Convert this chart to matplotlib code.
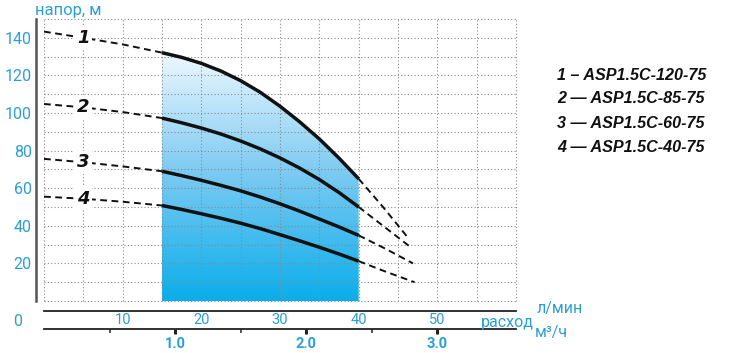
import numpy as np
import matplotlib
matplotlib.use("Agg")
import matplotlib.pyplot as plt
from matplotlib.colors import LinearSegmentedColormap

# flow, l/min
flow_left = [0, 5, 10, 15]
flow_mid = [15, 17.5, 20, 22.5, 25, 27.5, 30, 32.5, 35, 37.5, 40]

# head, m  (dashed part left of the working range)
head_left = {
    "1": [143.3, 140.0, 136.5, 132.1],
    "2": [104.8, 103.0, 100.5, 97.3],
    "3": [75.6, 73.8, 71.6, 69.0],
    "4": [55.5, 54.4, 52.8, 50.8],
}
# head, m  (working range, solid)
head_mid = {
    "1": [132.1, 129.6, 126.4, 122.3, 117.2, 111.0, 103.6, 95.3, 86.2, 76.0, 65.0],
    "2": [97.3, 94.8, 92.0, 88.8, 85.1, 80.9, 76.1, 70.7, 64.6, 57.7, 50.0],
    "3": [69.0, 66.7, 64.2, 61.5, 58.6, 55.3, 51.7, 47.8, 43.6, 39.4, 34.9],
    "4": [50.8, 48.7, 46.4, 44.0, 41.4, 38.5, 35.3, 32.0, 28.6, 25.0, 21.2],
}
# dashed tail right of the working range
flow_right = {
    "1": [40, 43, 46.2],
    "2": [40, 43, 46.4],
    "3": [40, 43.5, 46.9],
    "4": [40, 43.5, 47.1],
}
head_right = {
    "1": [65.0, 50.5, 34.0],
    "2": [50.0, 40.3, 29.3],
    "3": [34.9, 27.6, 20.0],
    "4": [21.2, 15.5, 10.0],
}
models = {
    "1": "1 – ASP1.5C-120-75",
    "2": "2 — ASP1.5C-85-75",
    "3": "3 — ASP1.5C-60-75",
    "4": "4 — ASP1.5C-40-75",
}

x_ticks_lmin = [10, 20, 30, 40, 50]
y_ticks = [20, 40, 60, 80, 100, 120, 140]
m3h_major = [1.0, 2.0, 3.0]
m3h_minor = [0.5, 1.5, 2.5]

BLUE = "#2b9fd5"
FONT = "Roboto"
PX = 72 / 100  # points per pixel

fig = plt.figure(figsize=(7.3, 3.53), dpi=100)
ax = fig.add_axes([44 / 730, 52 / 353, 472 / 730, 282 / 353])
ax.set_xlim(0, 60)
ax.set_ylim(0, 150)

# dotted grid
grid_kw = dict(colors="#8a8a8a", linewidth=0.8, linestyles=(0, (1, 2)), clip_on=False, zorder=1)
ax.vlines(np.arange(0, 61, 5), 0, 150, **grid_kw)
ax.hlines(np.arange(0, 151, 10), 0, 60, **grid_kw)

# gradient fill under curve 1 in the working range
cmap = LinearSegmentedColormap.from_list(
    "pump", [(0.04, 0.68, 0.92), (0.48, 0.79, 0.95), (0.95, 0.98, 1.0)])
fill = ax.fill_between(flow_mid, 0, head_mid["1"], facecolor="none", edgecolor="none")
grad = np.linspace(0, 1, 256).reshape(-1, 1)
im = ax.imshow(grad, extent=(flow_mid[0], flow_mid[-1], 0, 135), origin="lower",
               aspect="auto", cmap=cmap, zorder=0.2)
im.set_clip_path(fill.get_paths()[0], transform=ax.transData)
ax.set_xlim(0, 60)
ax.set_ylim(0, 150)

dash = (0, (3.5, 2.3))
for key in head_mid:
    ax.plot(flow_left, head_left[key], color="#111111", lw=1.4, ls=dash, zorder=2)
    ax.plot(flow_mid, head_mid[key], color="#111111", lw=2.5, zorder=3,
            solid_capstyle="butt", solid_joinstyle="round")
    ax.plot(flow_right[key], head_right[key], color="#111111", lw=1.4, ls=dash, zorder=2)
    ax.text(flow_left[1], head_left[key][1], key, ha="center", va="center",
            fontsize=13, fontweight="bold", fontstyle="italic", family="DejaVu Sans",
            color="#111111", zorder=4,
            bbox=dict(boxstyle="square,pad=0.15", fc="white", ec="none"))

# axes
for side in ("top", "right"):
    ax.spines[side].set_visible(False)
ax.spines["left"].set_position(("outward", 8 * PX))
ax.spines["left"].set_color("#555555")
ax.spines["left"].set_linewidth(1.8)
ax.spines["bottom"].set_position(("outward", 10 * PX))
ax.spines["bottom"].set_color("#222222")
ax.spines["bottom"].set_linewidth(1.3)

ax.set_yticks(y_ticks)
ax.set_yticklabels([str(v) for v in y_ticks], fontsize=11.5, color=BLUE, family=FONT)
ax.tick_params(axis="y", length=0, pad=3)
ax.set_xticks(x_ticks_lmin)
ax.set_xticklabels([str(v) for v in x_ticks_lmin], fontsize=10.5, color=BLUE, family=FONT)
ax.tick_params(axis="x", length=0, pad=1.5)

sec = ax.secondary_xaxis("bottom", functions=(lambda q: q * 0.06, lambda q: q / 0.06))
sec.spines["bottom"].set_position(("outward", 28 * PX))
sec.spines["bottom"].set_color("#222222")
sec.spines["bottom"].set_linewidth(1.3)
sec.set_xticks(m3h_major)
sec.set_xticks(m3h_minor, minor=True)
sec.set_xticklabels([f"{v:.1f}" for v in m3h_major], fontsize=10.5, color=BLUE,
                    fontweight="bold", family=FONT)
sec.tick_params(axis="x", which="major", length=5 * PX, width=3 * PX, color="#222222", pad=2)
sec.tick_params(axis="x", which="minor", length=4 * PX, width=1.5 * PX, color="#222222")

# captions
fig.text(35 / 730, 1 - 11 / 353, "напор, м", fontsize=12, color=BLUE, family=FONT,
         ha="left", va="center")
fig.text(18 / 730, 1 - 322 / 353, "0", fontsize=11.5, color=BLUE, family=FONT,
         ha="center", va="center")
fig.text(481 / 730, 1 - 322 / 353, "расход", fontsize=11.5, color=BLUE, family=FONT,
         ha="left", va="center")
fig.text(537 / 730, 1 - 308 / 353, "л/мин", fontsize=11.5, color=BLUE, family=FONT,
         ha="left", va="center")
fig.text(535 / 730, 1 - 333 / 353, "м³/ч", fontsize=11.5, color=BLUE, family=FONT,
         ha="left", va="center")

for i, key in enumerate(models):
    fig.text(557 / 730, 1 - (75 + 24 * i) / 353, models[key], fontsize=11.6,
             fontweight="bold", fontstyle="italic", family="Liberation Sans",
             color="#111111", ha="left", va="center")

fig.savefig("out.png", dpi=100)
